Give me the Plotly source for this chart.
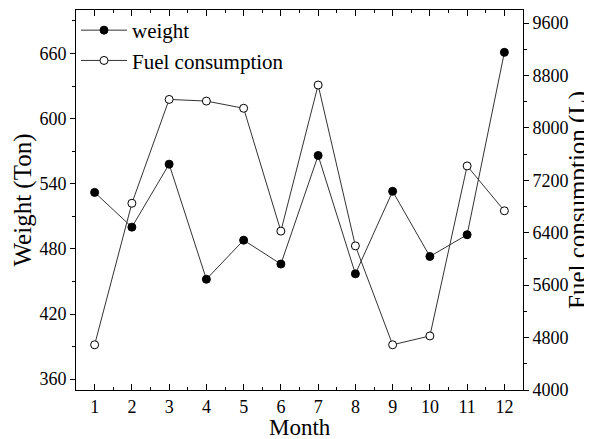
import plotly.graph_objects as go

months = [1, 2, 3, 4, 5, 6, 7, 8, 9, 10, 11, 12]
weight = [532, 500, 558, 452, 488, 466, 566, 457, 533, 473, 493, 661]
fuel = [4690, 6850, 8435, 8410, 8300, 6425, 8655, 6200, 4690, 4825, 7420, 6735]

FONT = "Liberation Serif"
LINE = "#333333"

fig = go.Figure()
fig.add_trace(go.Scatter(
    x=months, y=weight, name="weight", mode="lines+markers",
    line=dict(color=LINE, width=1),
    marker=dict(symbol="circle", size=8, color="black", line=dict(color="black", width=1)),
    yaxis="y",
))
fig.add_trace(go.Scatter(
    x=months, y=fuel, name="Fuel consumption", mode="lines+markers",
    line=dict(color=LINE, width=1),
    marker=dict(symbol="circle", size=8, color="white", line=dict(color="black", width=1)),
    yaxis="y2",
))

# the page body has an 8px margin, so the figure is sized/offset to compensate
fig.update_layout(
    width=584, height=431,
    margin=dict(l=68, r=69, t=2, b=49),
    paper_bgcolor="white", plot_bgcolor="white",
    font=dict(family=FONT, size=18, color="black"),
    showlegend=True,
    legend=dict(x=0.0, y=1.0, xanchor="left", yanchor="top",
                bgcolor="rgba(0,0,0,0)", font=dict(family=FONT, size=21),
                itemwidth=46, tracegroupgap=0),
    xaxis=dict(
        range=[0.5, 12.5], tickmode="array", tickvals=months,
        ticktext=[str(m) for m in months],
        ticks="inside", ticklen=6, tickwidth=1, tickcolor="black",
        minor=dict(dtick=0.5, tick0=0.5, ticks="inside", ticklen=3, tickcolor="black"),
        showline=True, linecolor="black", linewidth=1, mirror="ticks",
        showgrid=False, zeroline=False, automargin=False,
        tickfont=dict(family=FONT, size=18),
    ),
    yaxis=dict(
        range=[350, 700], tick0=360, dtick=60,
        ticks="outside", ticklen=5, tickwidth=1, tickcolor="black",
        minor=dict(dtick=30, tick0=360, ticks="outside", ticklen=3, tickcolor="black"),
        showline=True, linecolor="black", linewidth=1,
        showgrid=False, zeroline=False, automargin=False,
        title=dict(text="Weight (Ton)", font=dict(family=FONT, size=25), standoff=0),
        tickfont=dict(family=FONT, size=18),
    ),
    yaxis2=dict(
        range=[4000, 9800], tick0=4000, dtick=800,
        overlaying="y", side="right", tickformat="d",
        ticks="outside", ticklen=5, tickwidth=1, tickcolor="black",
        minor=dict(dtick=400, tick0=4000, ticks="outside", ticklen=3, tickcolor="black"),
        showline=True, linecolor="black", linewidth=1,
        showgrid=False, zeroline=False, automargin=False,
        title=dict(text="Fuel consumption (L)", font=dict(family=FONT, size=25), standoff=2),
        tickfont=dict(family=FONT, size=18),
    ),
    annotations=[dict(
        text="Month", xref="paper", yref="paper", x=0.5, y=0,
        xanchor="center", yanchor="top", yshift=-23, showarrow=False,
        font=dict(family=FONT, size=23),
    )],
)

fig.write_html("out.html")
